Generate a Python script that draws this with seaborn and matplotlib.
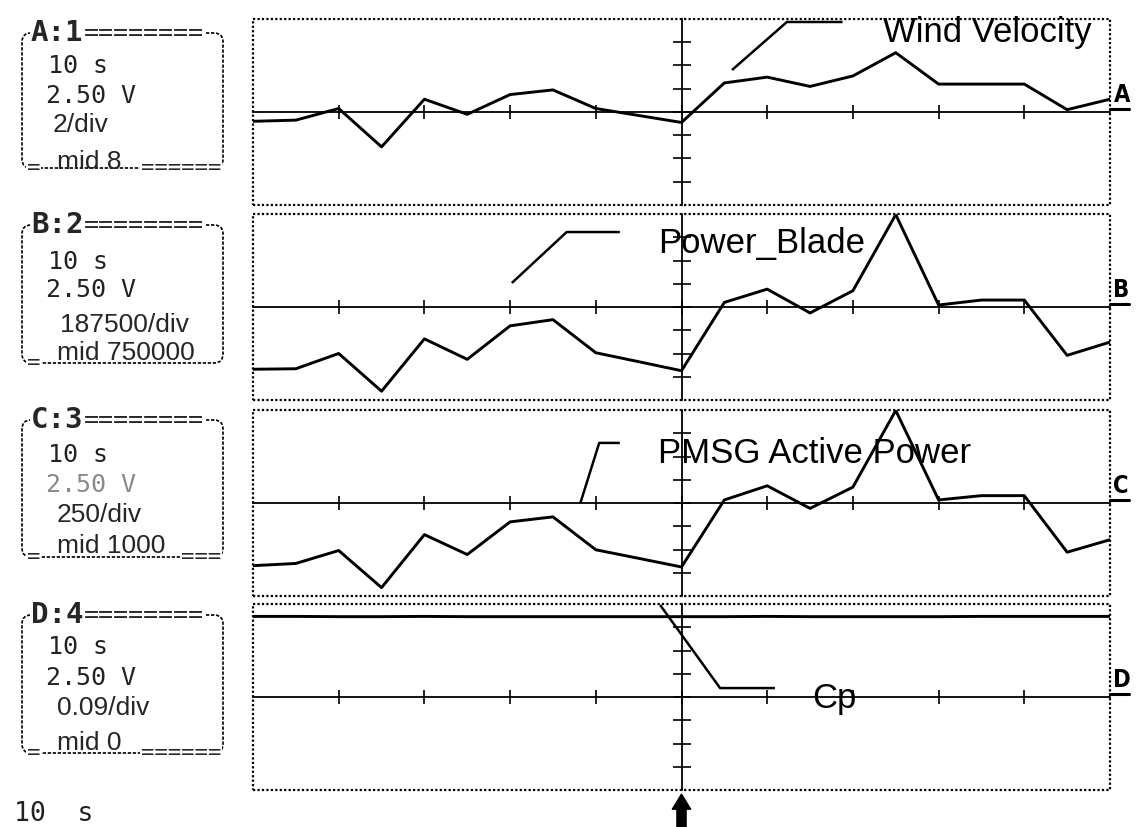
import matplotlib
matplotlib.use("Agg")
import matplotlib.pyplot as plt
import matplotlib.transforms as mtransforms
from matplotlib.patches import FancyBboxPatch, Rectangle
import seaborn as sns
import pandas as pd

# ---------------- data ----------------
time_s = [0, 5, 10, 15, 20, 25, 30, 35, 40, 45, 50,
          55, 60, 65, 70, 75, 80, 85, 90, 95, 100]
wind_velocity = [7.2, 7.3, 8.3, 5.0, 9.1, 7.8, 9.5, 9.9, 8.3, 7.7, 7.1,
                 10.5, 11.0, 10.2, 11.1, 13.1, 10.4, 10.4, 10.4, 8.2, 9.1]
power_blade = [248000, 252000, 375000, 71000, 493000, 328000, 598000, 648000,
               381000, 309000, 236000, 787000, 894000, 702000, 881000, 1495000,
               766000, 806000, 806000, 360000, 467000]
pmsg_active_power = [326, 350, 489, 90, 660, 446, 797, 851, 497, 405, 312,
                     1033, 1185, 942, 1171, 1995, 1033, 1079, 1079, 471, 605]
cp = [0.312, 0.312, 0.311, 0.311, 0.312, 0.311, 0.311, 0.311, 0.311, 0.311, 0.311,
      0.311, 0.312, 0.311, 0.311, 0.311, 0.311, 0.312, 0.312, 0.312, 0.312]

channel_letters = ["A", "B", "C", "D"]
channel_headers = ["A:1", "B:2", "C:3", "D:4"]
trace_names = ["Wind Velocity", "Power_Blade", "PMSG Active Power", "Cp"]
per_div_labels = ["2/div", "187500/div", "250/div", "0.09/div"]
mid_labels = ["mid 8", "mid 750000", "mid 1000", "mid 0"]
per_div = [2, 187500, 250, 0.09]
mids = [8, 750000, 1000, 0]
time_base_label = "10 s"
volts_label = "2.50 V"
bottom_time_label = "10  s"

series = [wind_velocity, power_blade, pmsg_active_power, cp]

# ---------------- layout (pixels, y from top) ----------------
W, H = 1137, 827
PLOT_L, PLOT_R = 253, 1110
PANEL_TOPS = [19, 214, 410, 604]
PANEL_H = 186

BOX_L, BOX_R = 22, 223
HEADER_Y = [33, 225, 420, 615]
TB_Y = [66, 262, 455, 647]
VOLT_Y = [96, 290, 485, 678]
DIV_Y = [125, 325, 515, 708]
MID_Y = [162, 353, 546, 743]
BOX_BOTTOM = [168, 363, 557, 753]
DIV_X = [53, 60, 57, 57]
BOTTOM_RIGHT_EQ = ["======", "", "===", "======"]
VOLT_COLORS = ["#222222", "#222222", "#8a8a8a", "#222222"]

# pointer leader lines (axes fractions) and label anchors
POINTERS = [
    ([0.559, 0.623, 0.688], [0.726, 0.984, 0.984], (0.735, 0.876)),
    ([0.302, 0.366, 0.428], [0.629, 0.903, 0.903], (0.473, 0.790)),
    ([0.382, 0.404, 0.428], [0.500, 0.823, 0.823], (0.473, 0.715)),
    ([0.475, 0.545, 0.609], [0.995, 0.548, 0.548], (0.653, 0.441)),
]

sns.set_theme(style="white")
plt.rcParams["font.family"] = ["Liberation Sans", "DejaVu Sans"]

fig = plt.figure(figsize=(W / 100, H / 100), dpi=100)
fig.patch.set_facecolor("white")
pix = mtransforms.Affine2D().scale(1 / W, -1 / H).translate(0, 1) + fig.transFigure

dotted = (0, (1, 1))
axes = []
for i in range(4):
    top = PANEL_TOPS[i]
    ax = fig.add_axes([PLOT_L / W, 1 - (top + PANEL_H) / H,
                       (PLOT_R - PLOT_L) / W, PANEL_H / H])
    axes.append(ax)
    df = pd.DataFrame({"t": time_s, "v": series[i]})
    sns.lineplot(data=df, x="t", y="v", ax=ax, color="black",
                 linewidth=2.1, estimator=None)
    mid, dv = mids[i], per_div[i]
    ax.set_xlim(0, 100)
    ax.set_ylim(mid - 4 * dv, mid + 4 * dv)
    ax.set_xticks(range(10, 100, 10))
    ax.set_yticks([mid + k * dv for k in range(-3, 4)])
    ax.tick_params(axis="x", bottom=True, direction="inout", length=10,
                   width=1.2, color="black", labelbottom=False)
    ax.tick_params(axis="y", left=True, direction="inout", length=13,
                   width=1.2, color="black", labelleft=False)
    ax.set_xlabel("")
    ax.set_ylabel("")
    ax.spines["left"].set_position(("data", 50))
    ax.spines["bottom"].set_position(("data", mid))
    for s in ("left", "bottom"):
        ax.spines[s].set_linestyle(dotted)
        ax.spines[s].set_linewidth(1.3)
        ax.spines[s].set_color("black")
    ax.spines["top"].set_visible(False)
    ax.spines["right"].set_visible(False)
    ax.add_patch(Rectangle((0, 0), 1, 1, transform=ax.transAxes, fill=False,
                           ec="black", lw=1.6, ls=dotted, clip_on=False))

    # leader line + trace name
    lx, ly, (tx, ty) = POINTERS[i]
    ax.plot(lx, ly, transform=ax.transAxes, color="black", lw=1.8,
            clip_on=False, solid_capstyle="butt")
    ax.text(tx, ty, trace_names[i], transform=ax.transAxes, fontsize=25,
            family="Liberation Sans", va="baseline", ha="left", color="black")

    # channel letter on the right
    ax.text(1.004, 0.555, channel_letters[i], transform=ax.transAxes,
            fontsize=17, weight="bold", family="DejaVu Sans",
            fontstretch="condensed", va="baseline", ha="left", color="black")
    ax.plot([1.0, 1.022], [0.516, 0.516], transform=ax.transAxes,
            color="black", lw=2.2, clip_on=False)

    # ---------------- left info box ----------------
    bt, bb = HEADER_Y[i], BOX_BOTTOM[i]
    fig.add_artist(FancyBboxPatch((BOX_L, bt), BOX_R - BOX_L, bb - bt,
                                  boxstyle="round,pad=0,rounding_size=9",
                                  transform=pix, fill=False, ec="black",
                                  lw=1.2, ls=(0, (2, 1))))
    white = dict(fc="white", ec="none", pad=0.5)
    fig.text(31, bt, channel_headers[i], transform=pix, family="DejaVu Sans Mono",
             weight="bold", fontsize=21, va="center", ha="left", bbox=white)
    fig.text(84, bt, "========", transform=pix, family="DejaVu Sans Mono",
             fontsize=18, va="center", ha="left", bbox=white)
    fig.text(48, TB_Y[i], time_base_label, transform=pix, family="DejaVu Sans Mono",
             fontsize=18, va="center", ha="left", color="#222222")
    fig.text(46, VOLT_Y[i], volts_label, transform=pix, family="DejaVu Sans Mono",
             fontsize=18, va="center", ha="left", color=VOLT_COLORS[i])
    fig.text(DIV_X[i], DIV_Y[i], per_div_labels[i], transform=pix,
             family="Liberation Sans", fontsize=19, va="center", ha="left")
    fig.text(27, bb, "=", transform=pix, family="DejaVu Sans Mono",
             fontsize=16, va="center", ha="left", bbox=white)
    fig.text(57, MID_Y[i], mid_labels[i], transform=pix,
             family="Liberation Sans", fontsize=19, va="center", ha="left")
    if BOTTOM_RIGHT_EQ[i]:
        fig.text(221, bb, BOTTOM_RIGHT_EQ[i], transform=pix, family="DejaVu Sans Mono",
                 fontsize=16, va="center", ha="right", bbox=white)

# bottom time label and trigger arrow
fig.text(14, 814, bottom_time_label, transform=pix, family="DejaVu Sans Mono",
         fontsize=19, va="center", ha="left", color="#222222")
axes[3].annotate("", xy=(0.5, 0), xycoords="axes fraction",
                 xytext=(0.5, -0.2), textcoords="axes fraction",
                 arrowprops=dict(arrowstyle="simple,head_width=1.1,head_length=0.9,tail_width=0.55",
                                 mutation_scale=12, fc="black", ec="black",
                                 shrinkA=0, shrinkB=3),
                 annotation_clip=False)

fig.savefig("out.png", dpi=100, facecolor="white")
